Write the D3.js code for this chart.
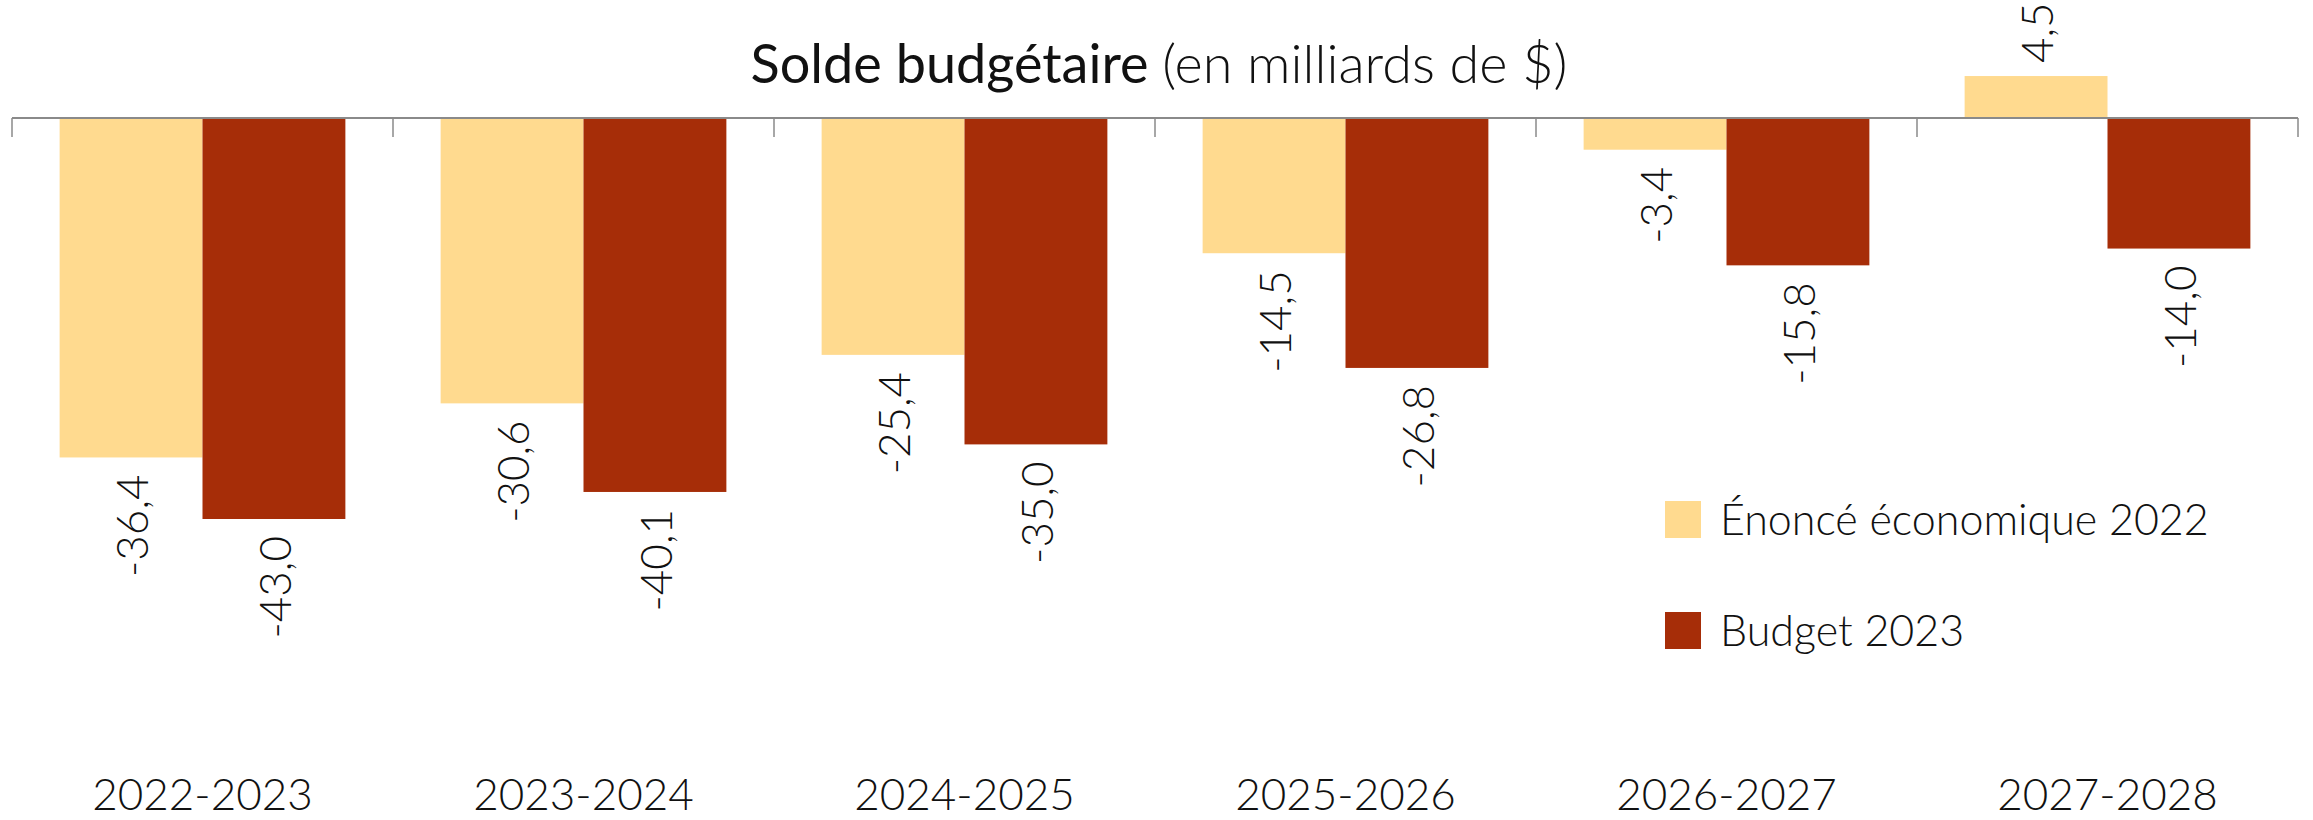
<!DOCTYPE html>
<html>
<head>
<meta charset="utf-8">
<script src="https://cdn.jsdelivr.net/npm/d3@7"></script>
<style>
  body { margin: 0; background: #fff; }
  text { font-family: Lato, "Open Sans", sans-serif; fill: #111; }
</style>
</head>
<body>
<div id="chart"></div>
<script>
(function () {

  var years = ['2022-2023', '2023-2024', '2024-2025', '2025-2026', '2026-2027', '2027-2028']
  var series = ['Énoncé économique 2022', 'Budget 2023']
  var enonce2022 = [-36.4, -30.6, -25.4, -14.5, -3.4, 4.5]
  var budget2023 = [-43.0, -40.1, -35.0, -26.8, -15.8, -14.0]
  var colors = ['#FFDA8F', '#A62D08']

  var width = 2313, height = 820

  var svg = d3.select("#chart")
      .append("svg")
      .attr("width", width)
      .attr("height", height)

  // one row per year, one value per series
  var datapoints = years.map(function (y, i) {
    return { year: y, values: [enonce2022[i], budget2023[i]] }
  })

  var xPositionScale = d3.scaleBand()
    .domain(years)
    .range([12, 2298])
    .paddingInner(0.25)
    .paddingOuter(0.125)

  var xInner = d3.scaleBand()
    .domain([0, 1])
    .range([0, xPositionScale.bandwidth()])

  var yPositionScale = d3.scaleLinear()
    .domain([-43, 0])
    .range([519, 118])

  var fmt = function (v) { return d3.format(".1f")(v).replace(".", ",").replace("−", "-") }

  // title
  var title = svg.append("text")
    .attr("x", 1159)
    .attr("y", 83)
    .attr("text-anchor", "middle")
    .attr("font-size", 54)
  title.append("tspan").attr("font-weight", 400).text("Solde budgétaire ")
  title.append("tspan").attr("font-weight", 300).text("(en milliards de $)")

  var groups = svg.selectAll(".year")
      .data(datapoints)
      .enter().append("g")
      .attr("class", "year")
      .attr("transform", function (d) { return "translate(" + xPositionScale(d.year) + ",0)" })

  groups.selectAll("rect")
      .data(function (d) { return d.values })
      .enter().append("rect")
      .attr("x", function (d, i) { return xInner(i) })
      .attr("y", function (d) { return yPositionScale(Math.max(0, d)) })
      .attr("width", xInner.bandwidth())
      .attr("height", function (d) { return Math.abs(yPositionScale(d) - yPositionScale(0)) })
      .attr("fill", function (d, i) { return colors[i] })

  groups.selectAll(".value")
      .data(function (d) { return d.values })
      .enter().append("text")
      .attr("class", "value")
      .attr("font-size", 44)
      .attr("font-weight", 300)
      .attr("dominant-baseline", "central")
      .attr("text-anchor", function (d) { return d < 0 ? "end" : "start" })
      .attr("transform", function (d, i) {
        var cx = xInner(i) + xInner.bandwidth() / 2
        var y = d < 0 ? yPositionScale(d) + 17 : yPositionScale(d) - 13
        return "translate(" + cx + "," + y + ") rotate(-90)"
      })
      .text(function (d) { return fmt(d) })

  // zero line with ticks between categories
  var step = xPositionScale.step()
  var boundaries = years.map(function (y) { return xPositionScale(y) - step * 0.125 })
  boundaries.push(xPositionScale(years[years.length - 1]) + xPositionScale.bandwidth() + step * 0.125)

  svg.append("line")
    .attr("x1", boundaries[0])
    .attr("x2", boundaries[boundaries.length - 1])
    .attr("y1", yPositionScale(0))
    .attr("y2", yPositionScale(0))
    .attr("stroke", "#8a8a8a")
    .attr("stroke-width", 2)

  svg.selectAll(".tick-mark")
    .data(boundaries)
    .enter().append("line")
    .attr("class", "tick-mark")
    .attr("x1", function (d) { return d })
    .attr("x2", function (d) { return d })
    .attr("y1", yPositionScale(0))
    .attr("y2", yPositionScale(0) + 19)
    .attr("stroke", "#8a8a8a")
    .attr("stroke-width", 1.5)

  // category labels
  svg.selectAll(".cat")
    .data(years)
    .enter().append("text")
    .attr("class", "cat")
    .attr("x", function (d) { return xPositionScale(d) + xPositionScale.bandwidth() / 2 })
    .attr("y", 810)
    .attr("text-anchor", "middle")
    .attr("font-size", 44)
    .attr("font-weight", 300)
    .text(function (d) { return d })

  // legend
  var legend = svg.selectAll(".legend")
    .data(series)
    .enter().append("g")
    .attr("class", "legend")
    .attr("transform", function (d, i) { return "translate(1665," + (501 + i * 111) + ")" })

  legend.append("rect")
    .attr("width", 36)
    .attr("height", 37)
    .attr("fill", function (d, i) { return colors[i] })

  legend.append("text")
    .attr("x", 55)
    .attr("y", 17)
    .attr("dominant-baseline", "central")
    .attr("font-size", 43)
    .attr("font-weight", 300)
    .text(function (d) { return d })

})()
</script>
</body>
</html>
